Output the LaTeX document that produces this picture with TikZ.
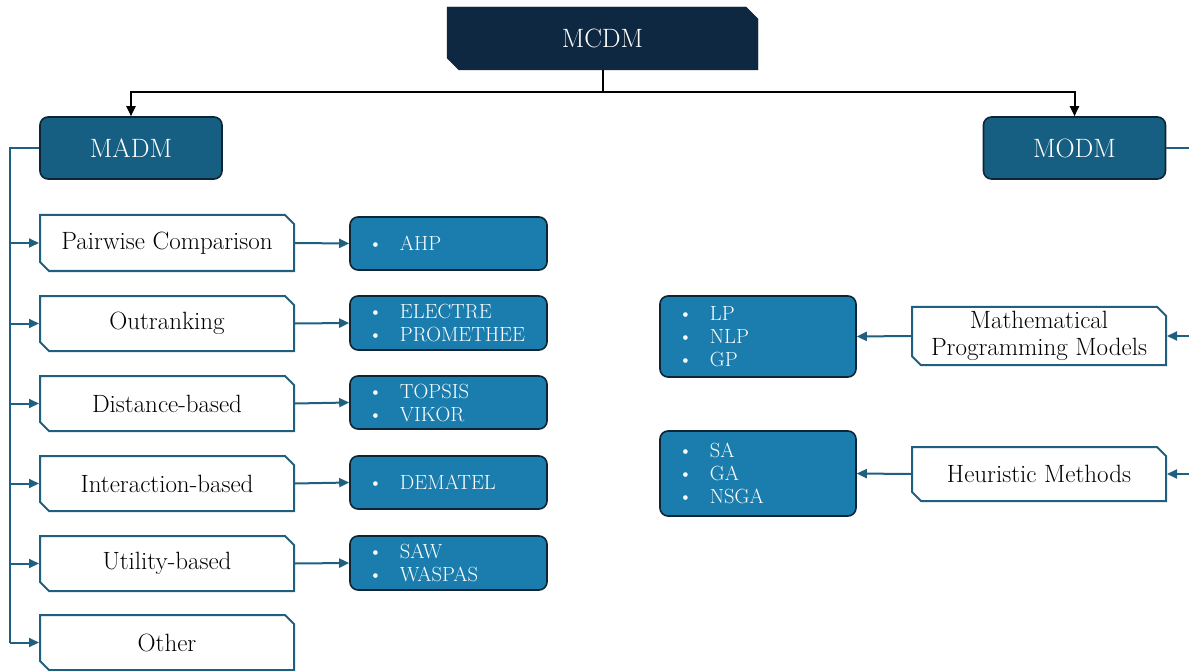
\documentclass[tikz,border=0pt]{standalone}
\usetikzlibrary{shapes.misc,arrows.meta}

\definecolor{navy}{HTML}{0F2842}
\definecolor{steel}{HTML}{165F82}
\definecolor{listblue}{HTML}{1A7DAD}
\definecolor{edgedark}{HTML}{0E2535}
\definecolor{linkblue}{HTML}{1F5F80}

\tikzset{
  chamf/.style={chamfered rectangle, chamfered rectangle corners={north east,south west},
    chamfered rectangle xsep=4.5pt, chamfered rectangle ysep=4.5pt, inner sep=0pt},
  rootbox/.style={chamf, chamfered rectangle xsep=6pt, chamfered rectangle ysep=6pt,
    fill=navy, draw=navy, text=white, minimum width=311pt, minimum height=63pt,
    font=\fontsize{26.5}{30}\selectfont},
  groupbox/.style={rounded corners=8pt, fill=steel, draw=edgedark, line width=1.6pt, text=white,
    minimum width=182pt, minimum height=62pt, font=\fontsize{26.5}{30}\selectfont},
  classbox/.style={chamf, fill=white, draw=linkblue, line width=2pt, text=black,
    minimum width=254pt, align=center, font=\fontsize{25}{27}\selectfont},
  listbox/.style={rounded corners=8pt, fill=listblue, draw=edgedark, line width=1.6pt, text=white,
    minimum width=197pt, text width=161pt, inner xsep=18pt, align=left,
    font=\fontsize{20.5}{23}\selectfont},
  link/.style={draw=linkblue, line width=2pt, -{Triangle[length=10pt,width=9pt]}},
  plain/.style={draw=linkblue, line width=2pt},
  toplink/.style={draw=black, line width=2pt, -{Triangle[length=10pt,width=9pt]}},
}
\newcommand{\itm}[1]{\makebox[32pt][l]{\textbullet}#1}

\begin{document}
\begin{tikzpicture}[x=1pt,y=-1pt]
  \useasboundingbox (0,0) rectangle (1189,671);
  \clip (0,0) rectangle (1189,671);

  % root and the two families
  \node[rootbox] (mcdm) at (602.5,38.5) {MCDM};
  \node[groupbox] (madm) at (131,148) {MADM};
  \node[groupbox] (modm) at (1074.5,148) {MODM};

  \coordinate (split) at (602.5,92);
  \draw[draw=black, line width=2pt] (mcdm.south) -- (split);
  \draw[toplink] (split) -| (madm.north);
  \draw[toplink] (split) -| (modm.north);

  % MADM classes
  \node[classbox, minimum height=56pt] (pair) at (167,243) {Pairwise Comparison};
  \node[classbox, minimum height=55pt] (outr) at (167,323.5) {Outranking};
  \node[classbox, minimum height=55pt] (dist) at (167,403.5) {Distance-based};
  \node[classbox, minimum height=55pt] (inter) at (167,483.5) {Interaction-based};
  \node[classbox, minimum height=55pt] (util) at (167,563.5) {Utility-based};
  \node[classbox, minimum height=55pt] (other) at (167,642.5) {Other};

  % MADM methods
  \node[listbox, minimum height=53pt] (lahp) at (448.5,243.5) {\itm{AHP}};
  \node[listbox, minimum height=54pt] (lout) at (448.5,323) {\itm{ELECTRE}\\\itm{PROMETHEE}};
  \node[listbox, minimum height=53pt] (ldist) at (448.5,402.5) {\itm{TOPSIS}\\\itm{VIKOR}};
  \node[listbox, minimum height=53pt] (lint) at (448.5,482.5) {\itm{DEMATEL}};
  \node[listbox, minimum height=54pt] (lutil) at (448.5,563) {\itm{SAW}\\\itm{WASPAS}};

  % MADM trunk
  \coordinate (ltop) at (10,148);
  \coordinate (lbot) at (10,642.5);
  \draw[plain] (madm.west) -- (ltop) -- (lbot);
  \foreach \n in {pair,outr,dist,inter,util,other}
    \draw[link] (ltop |- \n.west) -- (\n.west);

  \draw[link] (pair.east) -- (lahp.west);
  \draw[link] (outr.east) -- (lout.west);
  \draw[link] (dist.east) -- (ldist.west);
  \draw[link] (inter.east) -- (lint.west);
  \draw[link] (util.east) -- (lutil.west);

  % MODM classes
  \node[classbox, minimum height=54pt] (math) at (1039,336) {Mathematical\\Programming Models};
  \node[classbox, minimum height=54pt] (heur) at (1039,474) {Heuristic Methods};

  \node[listbox, minimum height=81pt, minimum width=196pt, text width=160pt] (lmath) at (758,336.5)
    {\itm{LP}\\\itm{NLP}\\\itm{GP}};
  \node[listbox, minimum height=85pt, minimum width=196pt, text width=160pt] (lheur) at (758,473.5)
    {\itm{SA}\\\itm{GA}\\\itm{NSGA}};

  % MODM trunk, running along the right border
  \coordinate (rtop) at (1205,148);
  \coordinate (rbot) at (1205,474);
  \draw[plain] (modm.east) -- (rtop) -- (rbot);
  \draw[link] (rtop |- math.east) -- (math.east);
  \draw[link] (rtop |- heur.east) -- (heur.east);

  \draw[link] (math.west) -- (lmath.east);
  \draw[link] (heur.west) -- (lheur.east);
\end{tikzpicture}
\end{document}
